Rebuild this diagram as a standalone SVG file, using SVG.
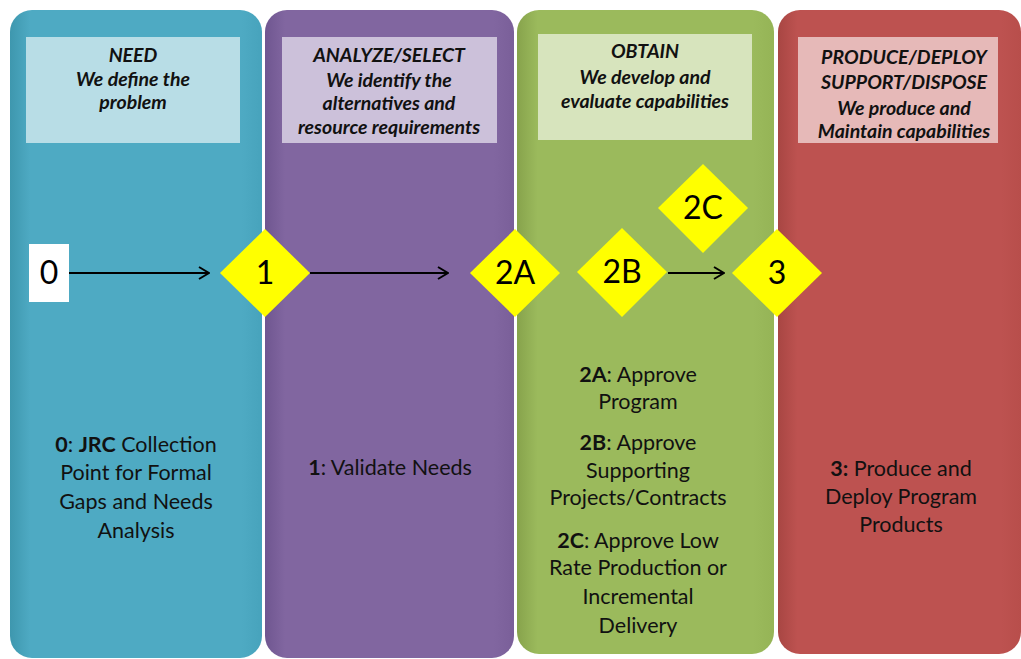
<svg xmlns="http://www.w3.org/2000/svg" width="1021" height="659" viewBox="0 0 1021 659">
  <defs>
    <linearGradient id="gBlue" x1="0" y1="0" x2="1" y2="0">
      <stop offset="0" stop-color="#3e97ae"/>
      <stop offset="0.08" stop-color="#4eaac3"/>
      <stop offset="0.92" stop-color="#4eaac3"/>
      <stop offset="1" stop-color="#47a3bc"/>
    </linearGradient>
    <linearGradient id="gPurple" x1="0" y1="0" x2="1" y2="0">
      <stop offset="0" stop-color="#6f5690"/>
      <stop offset="0.08" stop-color="#8166a0"/>
      <stop offset="0.92" stop-color="#8166a0"/>
      <stop offset="1" stop-color="#7a5f99"/>
    </linearGradient>
    <linearGradient id="gGreen" x1="0" y1="0" x2="1" y2="0">
      <stop offset="0" stop-color="#87a34c"/>
      <stop offset="0.08" stop-color="#9bba5c"/>
      <stop offset="0.92" stop-color="#9bba5c"/>
      <stop offset="1" stop-color="#95b456"/>
    </linearGradient>
    <linearGradient id="gRed" x1="0" y1="0" x2="1" y2="0">
      <stop offset="0" stop-color="#a84643"/>
      <stop offset="0.08" stop-color="#bd5250"/>
      <stop offset="0.92" stop-color="#bd5250"/>
      <stop offset="1" stop-color="#b84e4b"/>
    </linearGradient>
    <marker id="arrow" viewBox="0 0 12 14" refX="11" refY="7" markerWidth="12" markerHeight="14" markerUnits="userSpaceOnUse" orient="auto">
      <path d="M1,1 L11,7 L1,13" fill="none" stroke="#000" stroke-width="2"/>
    </marker>
    <style>
      .hdr { font-family: Lato, "Liberation Sans", sans-serif; font-style: italic; font-weight: bold; font-size: 19.5px; fill: #111; text-anchor: middle; }
      .body { font-family: Lato, "Liberation Sans", sans-serif; font-size: 21.5px; fill: #111; text-anchor: middle; }
      .body tspan.b { font-weight: bold; }
      .dia { fill: #ffff00; }
      .dlbl { font-family: Lato, "Liberation Sans", sans-serif; font-size: 32px; fill: #000; text-anchor: middle; }
      .conn { stroke: #000; stroke-width: 2; fill: none; marker-end: url(#arrow); }
    </style>
  </defs>

  <rect width="1021" height="659" fill="#ffffff"/>

  <!-- phase columns -->
  <g id="col-need">
    <rect x="10" y="10" width="252" height="648" rx="22" fill="url(#gBlue)"/>
    <rect x="26" y="37" width="214" height="106" fill="#b8dde6"/>
    <text class="hdr" x="133" y="62">NEED</text>
    <text class="hdr" x="133" y="86">We define the</text>
    <text class="hdr" x="133" y="109">problem</text>
    <text class="body" x="136" y="452"><tspan class="b">0</tspan>: <tspan class="b">JRC</tspan> Collection</text>
    <text class="body" x="136" y="480">Point for Formal</text>
    <text class="body" x="136" y="509">Gaps and Needs</text>
    <text class="body" x="136" y="538">Analysis</text>
  </g>

  <g id="col-analyze">
    <rect x="265" y="10" width="249" height="648" rx="22" fill="url(#gPurple)"/>
    <rect x="282" y="37" width="215" height="106" fill="#ccc1da"/>
    <text class="hdr" x="389" y="62">ANALYZE/SELECT</text>
    <text class="hdr" x="389" y="87">We identify the</text>
    <text class="hdr" x="389" y="110">alternatives and</text>
    <text class="hdr" x="389" y="134">resource requirements</text>
    <text class="body" x="390" y="475"><tspan class="b">1</tspan>: Validate Needs</text>
  </g>

  <g id="col-obtain">
    <rect x="517" y="10" width="257" height="644" rx="22" fill="url(#gGreen)"/>
    <rect x="538" y="34" width="214" height="106" fill="#d7e4bd"/>
    <text class="hdr" x="645" y="58">OBTAIN</text>
    <text class="hdr" x="645" y="84">We develop and</text>
    <text class="hdr" x="645" y="108">evaluate capabilities</text>
    <text class="body" x="638" y="382"><tspan class="b">2A</tspan>: Approve</text>
    <text class="body" x="638" y="409">Program</text>
    <text class="body" x="638" y="450"><tspan class="b">2B</tspan>: Approve</text>
    <text class="body" x="638" y="478">Supporting</text>
    <text class="body" x="638" y="505">Projects/Contracts</text>
    <text class="body" x="638" y="548"><tspan class="b">2C</tspan>: Approve Low</text>
    <text class="body" x="638" y="575">Rate Production or</text>
    <text class="body" x="638" y="604">Incremental</text>
    <text class="body" x="638" y="633">Delivery</text>
  </g>

  <g id="col-produce">
    <rect x="778" y="10" width="243" height="644" rx="22" fill="url(#gRed)"/>
    <rect x="798" y="37" width="200" height="106" fill="#e6b9b8"/>
    <text class="hdr" x="904" y="64">PRODUCE/DEPLOY</text>
    <text class="hdr" x="904" y="89">SUPPORT/DISPOSE</text>
    <text class="hdr" x="904" y="115">We produce and</text>
    <text class="hdr" x="904" y="138">Maintain capabilities</text>
    <text class="body" x="901" y="476"><tspan class="b">3:</tspan> Produce and</text>
    <text class="body" x="901" y="504">Deploy Program</text>
    <text class="body" x="901" y="532">Products</text>
  </g>

  <!-- connectors -->
  <g id="connectors">
    <line class="conn" x1="69" y1="273" x2="209" y2="273"/>
    <line class="conn" x1="310" y1="273" x2="448" y2="273"/>
    <line class="conn" x1="668" y1="273" x2="724" y2="273"/>
  </g>

  <!-- milestones -->
  <g id="node-0">
    <rect x="29" y="244" width="40" height="58" fill="#ffffff"/>
    <text class="dlbl" x="49" y="284">0</text>
  </g>
  <g id="node-1">
    <polygon class="dia" points="265,229 310,273 265,317 220,273"/>
    <text class="dlbl" x="265" y="284">1</text>
  </g>
  <g id="node-2A">
    <polygon class="dia" points="515,229 560,273 515,317 470,273"/>
    <text class="dlbl" x="515" y="284">2A</text>
  </g>
  <g id="node-2B">
    <polygon class="dia" points="622,228 667,272 622,317 577,272"/>
    <text class="dlbl" x="622" y="283">2B</text>
  </g>
  <g id="node-2C">
    <polygon class="dia" points="703,164 748,208 703,253 658,208"/>
    <text class="dlbl" x="703" y="219">2C</text>
  </g>
  <g id="node-3">
    <polygon class="dia" points="777,229 822,273 777,317 732,273"/>
    <text class="dlbl" x="777" y="284">3</text>
  </g>
</svg>
